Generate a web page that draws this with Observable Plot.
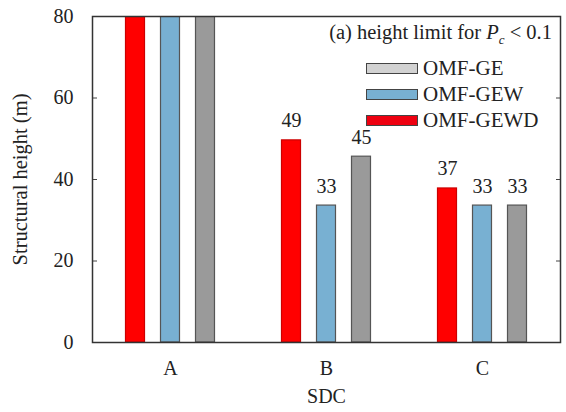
<!DOCTYPE html>
<html>
<head>
<meta charset="utf-8">
<script src="https://cdn.jsdelivr.net/npm/d3@7"></script>
<script src="https://cdn.jsdelivr.net/npm/@observablehq/plot@0.6"></script>
<style>
  body { margin: 0; background: #fff; }
  #wrap { position: relative; width: 566px; height: 412px; font-family: "Liberation Serif", "DejaVu Serif", serif; }
  #legend { position: absolute; right: 14px; top: 17px; color: #222; text-align: right; }
  #legend .title { font-size: 20.5px; line-height: 30px; white-space: nowrap; }
  #legend .item { display: flex; align-items: center; justify-content: flex-start; height: 26px; font-size: 21px; margin-left: auto; width: 186px; }
  #legend .sw { width: 50px; height: 9px; border: 1.5px solid #444; margin-right: 5px; flex: none; }
  #legend sub { font-size: 13px; }
</style>
</head>
<body>
<div id="wrap">
  <div id="chart"></div>
  <div id="legend"></div>
</div>
<script>
const sdc = ["A", "B", "C"];
const seriesNames = ["OMF-GEWD", "OMF-GEW", "OMF-GE"];
const gewd = [80, 49.6, 37.8];
const gew = [80, 33.6, 33.6];
const ge = [80, 45.6, 33.6];
const gewdLabels = ["", "49", "37"];
const gewLabels = ["", "33", "33"];
const geLabels = ["", "45", "33"];
const yTicks = [0, 20, 40, 60, 80];
const colors = {"OMF-GEWD": "#ff0000", "OMF-GEW": "#78b0d2", "OMF-GE": "#9a9a9a"};
const legendColors = {"OMF-GE": "#d2d2d2", "OMF-GEW": "#78b0d2", "OMF-GEWD": "#ee0010"};
const legendOrder = ["OMF-GE", "OMF-GEW", "OMF-GEWD"];

const rows = [];
sdc.forEach((g, i) => {
  rows.push({sdc: g, series: "OMF-GEWD", value: gewd[i], label: gewdLabels[i]});
  rows.push({sdc: g, series: "OMF-GEW", value: gew[i], label: gewLabels[i]});
  rows.push({sdc: g, series: "OMF-GE", value: ge[i], label: geLabels[i]});
});

// bar layout within each SDC band (band = 156px)
const layout = {
  "OMF-GEWD": {insetLeft: 33.5, insetRight: 103.5, dx: -35},
  "OMF-GEW": {insetLeft: 68.5, insetRight: 68.5, dx: 0},
  "OMF-GE": {insetLeft: 103.5, insetRight: 33.5, dx: 35}
};

const marks = [];
for (const s of seriesNames) {
  const data = rows.filter(d => d.series === s);
  marks.push(Plot.barY(data, {
    x: "sdc", y: "value", fill: colors[s],
    stroke: s === "OMF-GEWD" ? "#cc0000" : "#555", strokeWidth: 1.2,
    insetLeft: layout[s].insetLeft, insetRight: layout[s].insetRight, clip: true
  }));
  marks.push(Plot.text(data, {
    x: "sdc", y: "value", text: "label", dx: layout[s].dx, dy: -13,
    fontSize: 20, fill: "#222", lineAnchor: "bottom"
  }));
}

const chart = Plot.plot({
  width: 566, height: 412,
  marginLeft: 92, marginRight: 6, marginTop: 16, marginBottom: 70,
  style: {fontFamily: "'Liberation Serif', serif", fontSize: "20px", color: "#222", background: "#fff"},
  x: {domain: sdc, padding: 0, label: null},
  y: {domain: [0, 80], label: null},
  marks: [
    ...marks,
    Plot.axisY(yTicks, {anchor: "left", tickSize: -5, tickPadding: 24, fontSize: 20, label: null, stroke: "#444"}),
    Plot.axisY(yTicks, {anchor: "right", tickSize: -5, text: null, label: null, stroke: "#444"}),
    Plot.axisX({tickSize: 0, tickPadding: 18, fontSize: 20, label: null}),
    Plot.text(["SDC"], {frameAnchor: "bottom", dy: 60, fontSize: 20, fill: "#222"}),
    Plot.text(["Structural height (m)"], {frameAnchor: "left", textAnchor: "middle", dx: -72, rotate: -90, fontSize: 20.5, fill: "#222"}),
    Plot.frame({stroke: "#333", strokeWidth: 1.5})
  ]
});
document.getElementById("chart").appendChild(chart);

const legend = document.getElementById("legend");
legend.innerHTML = '<div class="title">(a) height limit for <i>P</i><sub><i>c</i></sub> &lt; 0.1</div>' +
  legendOrder.map(s => `<div class="item"><div class="sw" style="background:${legendColors[s]}"></div><span>${s}</span></div>`).join("");
</script>
</body>
</html>
